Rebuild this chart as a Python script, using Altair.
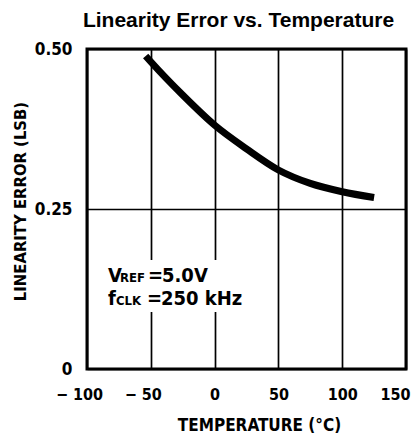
import altair as alt
import pandas as pd

# data
temperature = [-54, -50, -25, 0, 25, 50, 75, 100, 125]
linearity_error = [0.489, 0.480, 0.428, 0.381, 0.344, 0.311, 0.290, 0.277, 0.268]

x_ticks = [-100, -50, 0, 50, 100, 150]
y_ticks = [0, 0.25, 0.5]

df = pd.DataFrame({"t": temperature, "e": linearity_error})
one = pd.DataFrame({"k": [0]})

COND = "'Liberation Sans Narrow', 'DejaVu Sans Condensed', 'Roboto Condensed', 'Arial Narrow', sans-serif"

x_enc = alt.X(
    "t:Q",
    scale=alt.Scale(domain=[-100, 150], nice=False, zero=False),
    axis=alt.Axis(
        values=x_ticks,
        title="TEMPERATURE (°C)",
        labelExpr="datum.value < 0 ? '\u2212' + ' ' + abs(datum.value) : datum.label",
        labelOffset={
            "condition": [
                {"test": "datum.value < 0", "value": -8},
                {"test": "datum.value > 120", "value": -11},
            ],
            "value": 0,
        },
        labelPadding=17,
        labelFontSize=16,
        labelOverlap=False,
        labelFlush=False,
        labelBound=False,
        titleX=172,
        titleY=61,
        titleBaseline="alphabetic",
    ),
)
y_enc = alt.Y(
    "e:Q",
    scale=alt.Scale(domain=[0, 0.5], nice=False),
    axis=alt.Axis(
        values=y_ticks,
        title="LINEARITY ERROR (LSB)",
        labelExpr="datum.value == 0 ? '0' : format(datum.value, '.2f')",
        labelPadding=15,
        labelOverlap=False,
        labelFlush=False,
        titleX=-62,
        titleY=152,
        titleFontSize=16.5,
        titleBaseline="alphabetic",
    ),
)

line = alt.Chart(df).mark_line(
    color="black", strokeWidth=7, interpolate="monotone", strokeCap="butt"
).encode(x=x_enc, y=y_enc)

box = alt.Chart(one).mark_rect(color="white", opacity=1).encode(
    x=alt.value(17), x2=alt.value(145), y=alt.value(211), y2=alt.value(263)
)


def txt(s, px, py, size):
    return alt.Chart(one).mark_text(
        align="left", baseline="alphabetic", font=COND, fontWeight="bold",
        fontSize=size, color="black"
    ).encode(x=alt.value(px), y=alt.value(py), text=alt.value(s))


big = 20
small = 13
notes = [
    txt("V", 21, 233, big),
    txt("REF", 33, 233, small),
    txt("=", 61, 233, big),
    txt("5.0V", 75, 233, big),
    txt("f", 21, 256, big),
    txt("CLK", 29, 256, small),
    txt("=", 60, 256, big),
    txt("250 kHz", 74, 256, big),
]

chart = alt.layer(line, box, *notes).properties(
    width=319,
    height=320,
    title=alt.TitleParams(
        "Linearity Error vs. Temperature",
        font="'Liberation Sans', Arial, sans-serif",
        fontSize=21,
        fontWeight="bold",
        anchor="middle",
        offset=9,
        dx=-8,
        color="black",
    ),
    autosize=alt.AutoSizeParams(type="none"),
    padding={"left": 79, "top": 41, "right": 6, "bottom": 65},
).configure_view(
    stroke="black", strokeWidth=3
).configure_axis(
    domain=False,
    ticks=False,
    grid=True,
    gridColor="black",
    gridWidth=1.7,
    gridOpacity=1,
    labelFont=COND,
    labelFontWeight="bold",
    labelFontSize=17,
    labelColor="black",
    titleFont=COND,
    titleFontWeight="bold",
    titleFontSize=17,
    titleColor="black",
)

chart.save("out.html", embed_options={"renderer": "svg", "actions": False})
